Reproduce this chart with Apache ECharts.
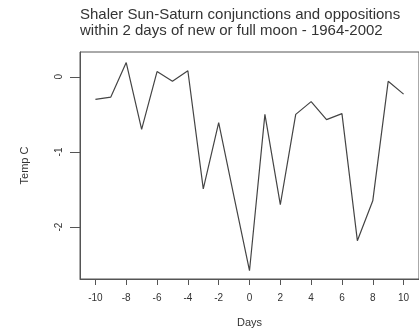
<!DOCTYPE html>
<html>
<head>
<meta charset="utf-8">
<script src="https://cdn.jsdelivr.net/npm/echarts@6/dist/echarts.min.js"></script>
<style>html,body{margin:0;padding:0;background:#fff;}#c{width:419px;height:333px;}</style>
</head>
<body>
<div id="c"></div>
<script>
var days = [-10,-9,-8,-7,-6,-5,-4,-3,-2,-1,0,1,2,3,4,5,6,7,8,9,10];
var temps = [-0.30,-0.27,0.19,-0.70,0.07,-0.06,0.08,-1.49,-0.61,-1.60,-2.58,-0.50,-1.70,-0.50,-0.33,-0.57,-0.49,-2.18,-1.65,-0.06,-0.23];
var xTicks = [-10,-8,-6,-4,-2,0,2,4,6,8,10];
var yTicks = [-2,-1,0];

var chart = echarts.init(document.getElementById('c'));
var axisColor = '#555';
var textColor = '#333';
chart.setOption({
  animation: false,
  title: {
    text: 'Shaler Sun-Saturn conjunctions and oppositions\nwithin 2 days of new or full moon - 1964-2002',
    left: 75, top: 2,
    textStyle: {fontFamily: 'Liberation Sans', fontSize: 15, fontWeight: 'normal', color: textColor, lineHeight: 16}
  },
  grid: {left: 80, right: -6, top: 52, bottom: 53, show: true, borderColor: axisColor, borderWidth: 1},
  xAxis: {
    type: 'value', min: -11, max: 11,
    name: 'Days', nameLocation: 'middle', nameGap: 38,
    nameTextStyle: {fontFamily: 'Liberation Sans', fontSize: 11, color: textColor},
    axisLine: {show: true, onZero: false, lineStyle: {color: axisColor}},
    axisTick: {show: true, length: 6, lineStyle: {color: axisColor}, customValues: xTicks},
    axisLabel: {fontFamily: 'Liberation Sans', fontSize: 10, color: textColor, margin: 14, customValues: xTicks},
    splitLine: {show: false}
  },
  yAxis: {
    type: 'value', min: -2.69, max: 0.33,
    name: 'Temp C', nameLocation: 'middle', nameGap: 50, nameRotate: 90,
    nameTextStyle: {fontFamily: 'Liberation Sans', fontSize: 11, color: textColor},
    axisLine: {show: true, onZero: false, lineStyle: {color: axisColor}},
    axisTick: {show: true, length: 10, lineStyle: {color: axisColor}, customValues: yTicks},
    axisLabel: {fontFamily: 'Liberation Sans', fontSize: 10, color: textColor, margin: 16, rotate: 90, customValues: yTicks},
    splitLine: {show: false}
  },
  series: [{
    type: 'line',
    data: days.map(function(d, i){ return [d, temps[i]]; }),
    showSymbol: false,
    lineStyle: {color: '#444', width: 1.2}
  }]
});
</script>
</body>
</html>
